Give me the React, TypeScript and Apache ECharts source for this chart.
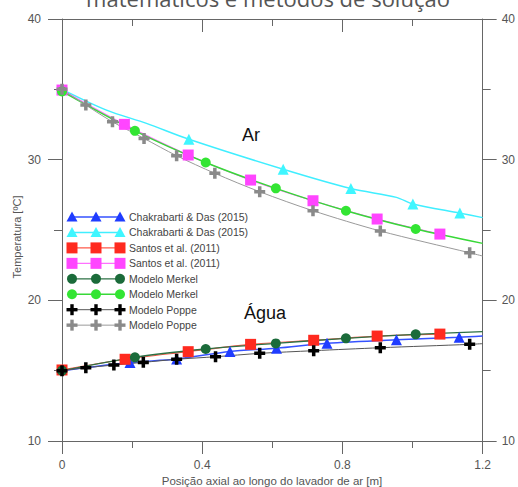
import React, { useEffect, useRef } from "react";
import * as echarts from "echarts";

// ---- data ----
const xTickLabels = ["0", "0.4", "0.8", "1.2"];
const yTickLabels = ["10", "20", "30", "40"];

// Chakrabarti & Das (2015) - water (blue) and air (cyan)
const cdWaterCurve = [[0, 15.0], [0.194, 15.58], [0.327, 15.83], [0.479, 16.37], [0.612, 16.6], [0.756, 16.95], [0.954, 17.2], [1.133, 17.37], [1.2, 17.46]];
const cdWaterMarkers = [[0.194, 15.58], [0.327, 15.83], [0.479, 16.37], [0.612, 16.6], [0.756, 16.95], [0.954, 17.2], [1.133, 17.37]];
const cdAirCurve = [[0, 35.0], [0.127, 33.52], [0.241, 32.58], [0.362, 31.45], [0.631, 29.32], [0.824, 27.95], [0.954, 27.32], [1.001, 26.85], [1.135, 26.2], [1.2, 25.88]];
const cdAirMarkers = [[0.362, 31.45], [0.631, 29.32], [0.824, 27.95], [1.001, 26.85], [1.135, 26.2]];

// Santos et al. (2011) - water (red) and air (magenta)
const santosWater = [[0, 15.05], [0.18, 15.81], [0.36, 16.35], [0.538, 16.87], [0.718, 17.16], [0.899, 17.46], [1.078, 17.6]];
const santosAir = [[0, 34.95], [0.178, 32.51], [0.36, 30.33], [0.538, 28.55], [0.716, 27.08], [0.899, 25.78], [1.078, 24.71]];

// Modelo Merkel - water (dark green) and air (light green)
const merkelWaterMarkers = [[0, 15.0], [0.208, 15.95], [0.41, 16.54], [0.61, 16.94], [0.81, 17.3], [1.009, 17.58]];
const merkelWaterEnd = [1.2, 17.77];
const merkelAirMarkers = [[0, 34.85], [0.208, 32.05], [0.41, 29.8], [0.61, 27.96], [0.81, 26.37], [1.009, 25.07]];
const merkelAirEnd = [1.2, 24.05];

// Modelo Poppe - water (black) and air (gray)
const poppeWaterMarkers = [[0, 15.0], [0.068, 15.21], [0.148, 15.4], [0.232, 15.59], [0.327, 15.81], [0.438, 15.99], [0.564, 16.23], [0.718, 16.42], [0.908, 16.63], [1.163, 16.87]];
const poppeWaterEnd = [1.2, 16.92];
const poppeAirMarkers = [[0, 35.0], [0.068, 33.88], [0.144, 32.69], [0.234, 31.51], [0.327, 30.28], [0.436, 29.03], [0.564, 27.72], [0.716, 26.37], [0.908, 24.93], [1.163, 23.38]];
const poppeAirEnd = [1.2, 23.15];

const legendLabels = [
  "Chakrabarti & Das (2015)",
  "Chakrabarti & Das (2015)",
  "Santos et al. (2011)",
  "Santos et al. (2011)",
  "Modelo Merkel",
  "Modelo Merkel",
  "Modelo Poppe",
  "Modelo Poppe",
];

const PLUS = "path://M3.4,0H6.6V3.4H10V6.6H6.6V10H3.4V6.6H0V3.4H3.4Z";

const styles = [
  { shape: "triangle", color: "#1f3cff", line: "#3552ff", lw: 1.5, size: 11 },
  { shape: "triangle", color: "#3ff6ff", line: "#40eeff", lw: 1.5, size: 11 },
  { shape: "rect", color: "#ff2a1f", line: "#ff5a4a", lw: 1.2, size: 11 },
  { shape: "rect", color: "#ff45ff", line: "#ff70ff", lw: 1.2, size: 11 },
  { shape: "circle", color: "#1b6b3a", line: "#2d7044", lw: 1.3, size: 10 },
  { shape: "circle", color: "#33e533", line: "#38d838", lw: 1.5, size: 10 },
  { shape: "plus", color: "#000000", line: "#555555", lw: 1, size: 11 },
  { shape: "plus", color: "#8a8a8a", line: "#9a9a9a", lw: 1, size: 11 },
];

const FONT = "Liberation Sans, Arial, sans-serif";

function legendMarker(shape: string, cx: number, cy: number, color: string): any[] {
  if (shape === "triangle") {
    return [{ type: "polygon", shape: { points: [[cx, cy - 5.5], [cx + 5.5, cy + 4.5], [cx - 5.5, cy + 4.5]] }, style: { fill: color } }];
  }
  if (shape === "rect") {
    return [{ type: "rect", shape: { x: cx - 5.5, y: cy - 5.5, width: 11, height: 11 }, style: { fill: color } }];
  }
  if (shape === "circle") {
    return [{ type: "circle", shape: { cx, cy, r: 5 }, style: { fill: color } }];
  }
  return [
    { type: "rect", shape: { x: cx - 5.5, y: cy - 1.7, width: 11, height: 3.4 }, style: { fill: color } },
    { type: "rect", shape: { x: cx - 1.7, y: cy - 5.5, width: 3.4, height: 11 }, style: { fill: color } },
  ];
}

export default function App() {
  const ref = useRef<HTMLDivElement>(null);

  useEffect(() => {
    document.body.style.margin = "0";
    if (!ref.current) return;
    const chart = echarts.init(ref.current, null, { renderer: "svg" });

    const curves = [
      cdWaterCurve,
      cdAirCurve,
      santosWater,
      santosAir,
      [...merkelWaterMarkers, merkelWaterEnd],
      [...merkelAirMarkers, merkelAirEnd],
      [...poppeWaterMarkers, poppeWaterEnd],
      [...poppeAirMarkers, poppeAirEnd],
    ];
    const markers = [
      cdWaterMarkers,
      cdAirMarkers,
      santosWater,
      santosAir,
      merkelWaterMarkers,
      merkelAirMarkers,
      poppeWaterMarkers,
      poppeAirMarkers,
    ];

    const series: any[] = [];
    curves.forEach((c, i) => {
      series.push({
        type: "line",
        data: c,
        smooth: 0.3,
        showSymbol: false,
        symbol: "none",
        lineStyle: { color: styles[i].line, width: styles[i].lw },
        z: 2 + i * 0.01,
        silent: true,
      });
    });
    markers.forEach((m, i) => {
      const s = styles[i];
      series.push({
        type: "scatter",
        data: m,
        symbol: s.shape === "plus" ? PLUS : s.shape,
        symbolSize: s.size,
        itemStyle: { color: s.color, opacity: 1 },
        z: 3 + i * 0.01,
        silent: true,
      });
    });

    const graphic: any[] = [];
    // legend
    const legendTop = 217;
    const rowGap = 15.45;
    legendLabels.forEach((label, i) => {
      const s = styles[i];
      const y = legendTop + i * rowGap;
      graphic.push({ type: "line", shape: { x1: 72, y1: y, x2: 120, y2: y }, style: { stroke: s.line, lineWidth: s.lw } });
      [72, 96, 120].forEach((cx) => graphic.push(...legendMarker(s.shape, cx, y, s.color)));
      graphic.push({
        type: "text",
        x: 129,
        y,
        style: { text: label, fontSize: 10.5, fontFamily: FONT, fill: "#444", align: "left", verticalAlign: "middle" },
      });
    });
    // title (cropped at the top, as in the reference)
    graphic.push({
      type: "text",
      x: 268,
      y: -2,
      style: { text: "matemáticos e métodos de solução", fontSize: 22, fontFamily: "Open Sans", fill: "#555", align: "center", verticalAlign: "middle" },
    });
    // in-plot labels
    graphic.push({ type: "text", x: 251, y: 135, style: { text: "Ar", fontSize: 18, fontFamily: FONT, fill: "#111", align: "center", verticalAlign: "middle" } });
    graphic.push({ type: "text", x: 265, y: 313, style: { text: "Água", fontSize: 18, fontFamily: FONT, fill: "#111", align: "center", verticalAlign: "middle" } });
    // axis titles
    graphic.push({
      type: "text",
      x: 272,
      y: 481,
      style: { text: "Posição axial ao longo do lavador de ar [m]", fontSize: 11.5, fontFamily: FONT, fill: "#555", align: "center", verticalAlign: "middle" },
    });
    graphic.push({
      type: "text",
      x: 17,
      y: 237,
      rotation: Math.PI / 2,
      style: { text: "Temperatura [ºC]", fontSize: 11, fontFamily: FONT, fill: "#555", align: "center", verticalAlign: "middle" },
    });

    const axisColor = "#666";
    const xFmt = (v: number) => {
      const s = String(parseFloat(v.toFixed(2)));
      return xTickLabels.includes(s) ? s : "";
    };
    const yFmt = (v: number) => {
      const s = String(Math.round(v));
      return yTickLabels.includes(s) ? s : "";
    };

    const xBase = {
      type: "value",
      min: 0,
      max: 1.2,
      interval: 0.4,
      axisLine: { show: true, onZero: false, lineStyle: { color: axisColor, width: 1 } },
      minorTick: { show: true, splitNumber: 2, length: 7, lineStyle: { color: axisColor, width: 1 } },
      splitLine: { show: false },
      minorSplitLine: { show: false },
    };
    const yBase = {
      type: "value",
      min: 10,
      max: 40,
      interval: 10,
      axisLine: { show: true, onZero: false, lineStyle: { color: axisColor, width: 1 } },
      axisTick: { show: true, inside: false, length: 14, lineStyle: { color: axisColor, width: 1 } },
      minorTick: { show: true, splitNumber: 2, length: 8, lineStyle: { color: axisColor, width: 1 } },
      splitLine: { show: false },
      minorSplitLine: { show: false },
    };

    chart.setOption({
      animation: false,
      backgroundColor: "#ffffff",
      grid: { left: 62, right: 35, top: 19, bottom: 46, containLabel: false },
      xAxis: [
        {
          ...xBase,
          position: "bottom",
          axisTick: { show: true, inside: false, length: 13, lineStyle: { color: axisColor, width: 1 } },
          axisLabel: { show: true, margin: 18, fontSize: 12, fontFamily: FONT, color: "#555", formatter: xFmt },
        },
        {
          ...xBase,
          position: "top",
          axisTick: { show: true, inside: true, length: 13, lineStyle: { color: axisColor, width: 1 } },
          axisLabel: { show: false },
        },
      ],
      yAxis: [
        { ...yBase, position: "left", axisLabel: { show: true, margin: 21, fontSize: 12, fontFamily: FONT, color: "#555", formatter: yFmt } },
        { ...yBase, position: "right", axisLabel: { show: true, margin: 19, fontSize: 12, fontFamily: FONT, color: "#555", formatter: yFmt } },
      ],
      series,
      graphic,
    });

    return () => chart.dispose();
  }, []);

  return <div ref={ref} style={{ width: 518, height: 487 }} />;
}
